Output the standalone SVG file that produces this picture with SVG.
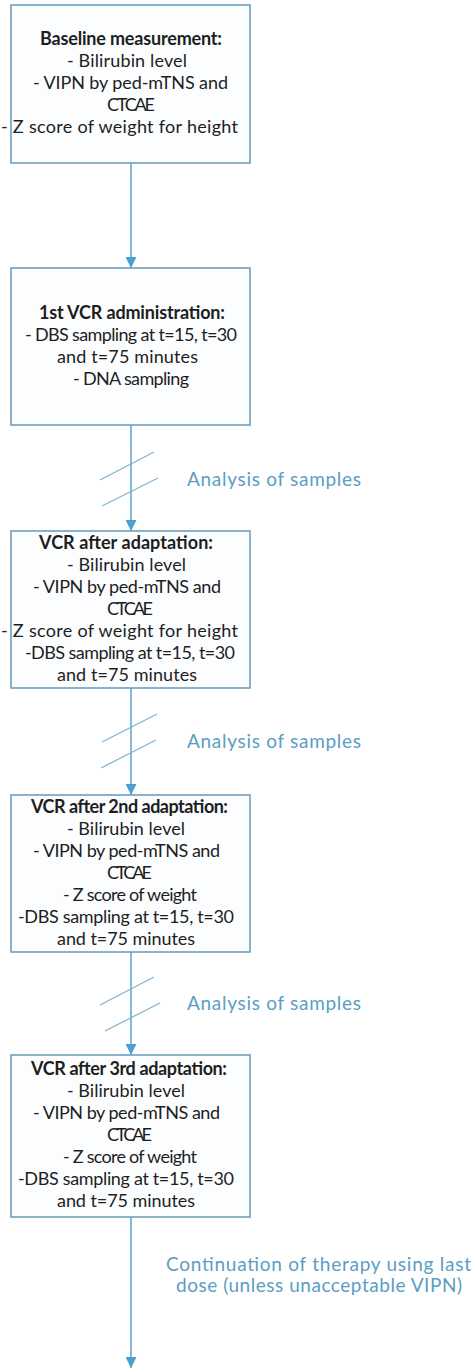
<svg xmlns="http://www.w3.org/2000/svg" width="476" height="1369" viewBox="0 0 476 1369">
<style>
.box{fill:#fbfdfe;stroke:#6f9fbd;stroke-width:1.6}
.t{font-family:Lato,"Open Sans","Liberation Sans",sans-serif;font-size:18px;fill:#1e1e1e}
.b{font-weight:bold}
.lab{font-family:Lato,"Open Sans","Liberation Sans",sans-serif;font-size:19px;fill:#5a9ec4}
.ln{stroke:#6aa7d2;stroke-width:1.6;fill:none}
.h{stroke:#7fb2d2;stroke-width:1.2;fill:none}
</style>
<defs>
<marker id="ah" viewBox="0 0 10 10" refX="10" refY="5" markerWidth="12" markerHeight="11" markerUnits="userSpaceOnUse" orient="auto">
<path d="M0,0 L10,5 L0,10 z" fill="#4b9fd3"/>
</marker>
</defs>
<g id="connectors">
<line class="ln" x1="131" y1="163" x2="131" y2="268" marker-end="url(#ah)"/>
<line class="ln" x1="131" y1="425" x2="131" y2="531" marker-end="url(#ah)"/>
<line class="ln" x1="131" y1="688" x2="131" y2="795" marker-end="url(#ah)"/>
<line class="ln" x1="131" y1="952" x2="131" y2="1055" marker-end="url(#ah)"/>
<line class="ln" x1="131" y1="1217" x2="131" y2="1368" marker-end="url(#ah)"/>
<line class="h" x1="100" y1="480" x2="154" y2="452"/>
<line class="h" x1="102" y1="506" x2="158" y2="478"/>
<line class="h" x1="102" y1="742" x2="157" y2="714"/>
<line class="h" x1="101" y1="768" x2="156" y2="740"/>
<line class="h" x1="100" y1="1005" x2="154" y2="977"/>
<line class="h" x1="105" y1="1031" x2="160" y2="1003"/>
<text class="lab" x="187" y="486" textLength="174" lengthAdjust="spacing">Analysis of samples</text>
<text class="lab" x="187" y="748" textLength="174" lengthAdjust="spacing">Analysis of samples</text>
<text class="lab" x="187" y="1010" textLength="174" lengthAdjust="spacing">Analysis of samples</text>
<text class="lab" x="166" y="1271" textLength="305" lengthAdjust="spacing">Continuation of therapy using last</text>
<text class="lab" x="176" y="1292" textLength="286" lengthAdjust="spacing">dose (unless unacceptable VIPN)</text>
</g>
<g id="node1">
<rect class="box" x="11" y="5" width="239" height="158"/>
<text class="t b" x="40" y="45" textLength="182" lengthAdjust="spacing">Baseline measurement:</text>
<text class="t" x="67" y="67" textLength="120" lengthAdjust="spacing">- Bilirubin level</text>
<text class="t" x="33" y="89" textLength="195" lengthAdjust="spacing">- VIPN by ped-mTNS and</text>
<text class="t" x="107" y="111" textLength="48" lengthAdjust="spacing">CTCAE</text>
<text class="t" x="1" y="133" textLength="237" lengthAdjust="spacing">- Z score of weight for height</text>
</g>
<g id="node2">
<rect class="box" x="11" y="268" width="239" height="157"/>
<text class="t b" x="39" y="319" textLength="186" lengthAdjust="spacing">1st VCR administration:</text>
<text class="t" x="25" y="341" textLength="212" lengthAdjust="spacing">- DBS sampling at t=15, t=30</text>
<text class="t" x="57" y="363" textLength="141" lengthAdjust="spacing">and t=75 minutes</text>
<text class="t" x="73" y="385" textLength="116" lengthAdjust="spacing">- DNA sampling</text>
</g>
<g id="node3">
<rect class="box" x="11" y="531" width="239" height="157"/>
<text class="t b" x="39" y="549" textLength="174" lengthAdjust="spacing">VCR after adaptation:</text>
<text class="t" x="67" y="571" textLength="119" lengthAdjust="spacing">- Bilirubin level</text>
<text class="t" x="33" y="593" textLength="188" lengthAdjust="spacing">- VIPN by ped-mTNS and</text>
<text class="t" x="107" y="615" textLength="46" lengthAdjust="spacing">CTCAE</text>
<text class="t" x="1" y="637" textLength="237" lengthAdjust="spacing">- Z score of weight for height</text>
<text class="t" x="25" y="659" textLength="210" lengthAdjust="spacing">-DBS sampling at t=15, t=30</text>
<text class="t" x="57" y="681" textLength="140" lengthAdjust="spacing">and t=75 minutes</text>
</g>
<g id="node4">
<rect class="box" x="11" y="795" width="239" height="157"/>
<text class="t b" x="31" y="813" textLength="197" lengthAdjust="spacing">VCR after 2nd adaptation:</text>
<text class="t" x="67" y="835" textLength="118" lengthAdjust="spacing">- Bilirubin level</text>
<text class="t" x="33" y="857" textLength="187" lengthAdjust="spacing">- VIPN by ped-mTNS and</text>
<text class="t" x="107" y="879" textLength="45" lengthAdjust="spacing">CTCAE</text>
<text class="t" x="63" y="901" textLength="134" lengthAdjust="spacing">- Z score of weight</text>
<text class="t" x="18" y="923" textLength="216" lengthAdjust="spacing">-DBS sampling at t=15, t=30</text>
<text class="t" x="57" y="945" textLength="138" lengthAdjust="spacing">and t=75 minutes</text>
</g>
<g id="node5">
<rect class="box" x="11" y="1055" width="239" height="162"/>
<text class="t b" x="31" y="1075" textLength="196" lengthAdjust="spacing">VCR after 3rd adaptation:</text>
<text class="t" x="67" y="1097" textLength="118" lengthAdjust="spacing">- Bilirubin level</text>
<text class="t" x="33" y="1119" textLength="187" lengthAdjust="spacing">- VIPN by ped-mTNS and</text>
<text class="t" x="107" y="1141" textLength="45" lengthAdjust="spacing">CTCAE</text>
<text class="t" x="63" y="1163" textLength="134" lengthAdjust="spacing">- Z score of weight</text>
<text class="t" x="18" y="1185" textLength="216" lengthAdjust="spacing">-DBS sampling at t=15, t=30</text>
<text class="t" x="57" y="1207" textLength="138" lengthAdjust="spacing">and t=75 minutes</text>
</g>
</svg>
